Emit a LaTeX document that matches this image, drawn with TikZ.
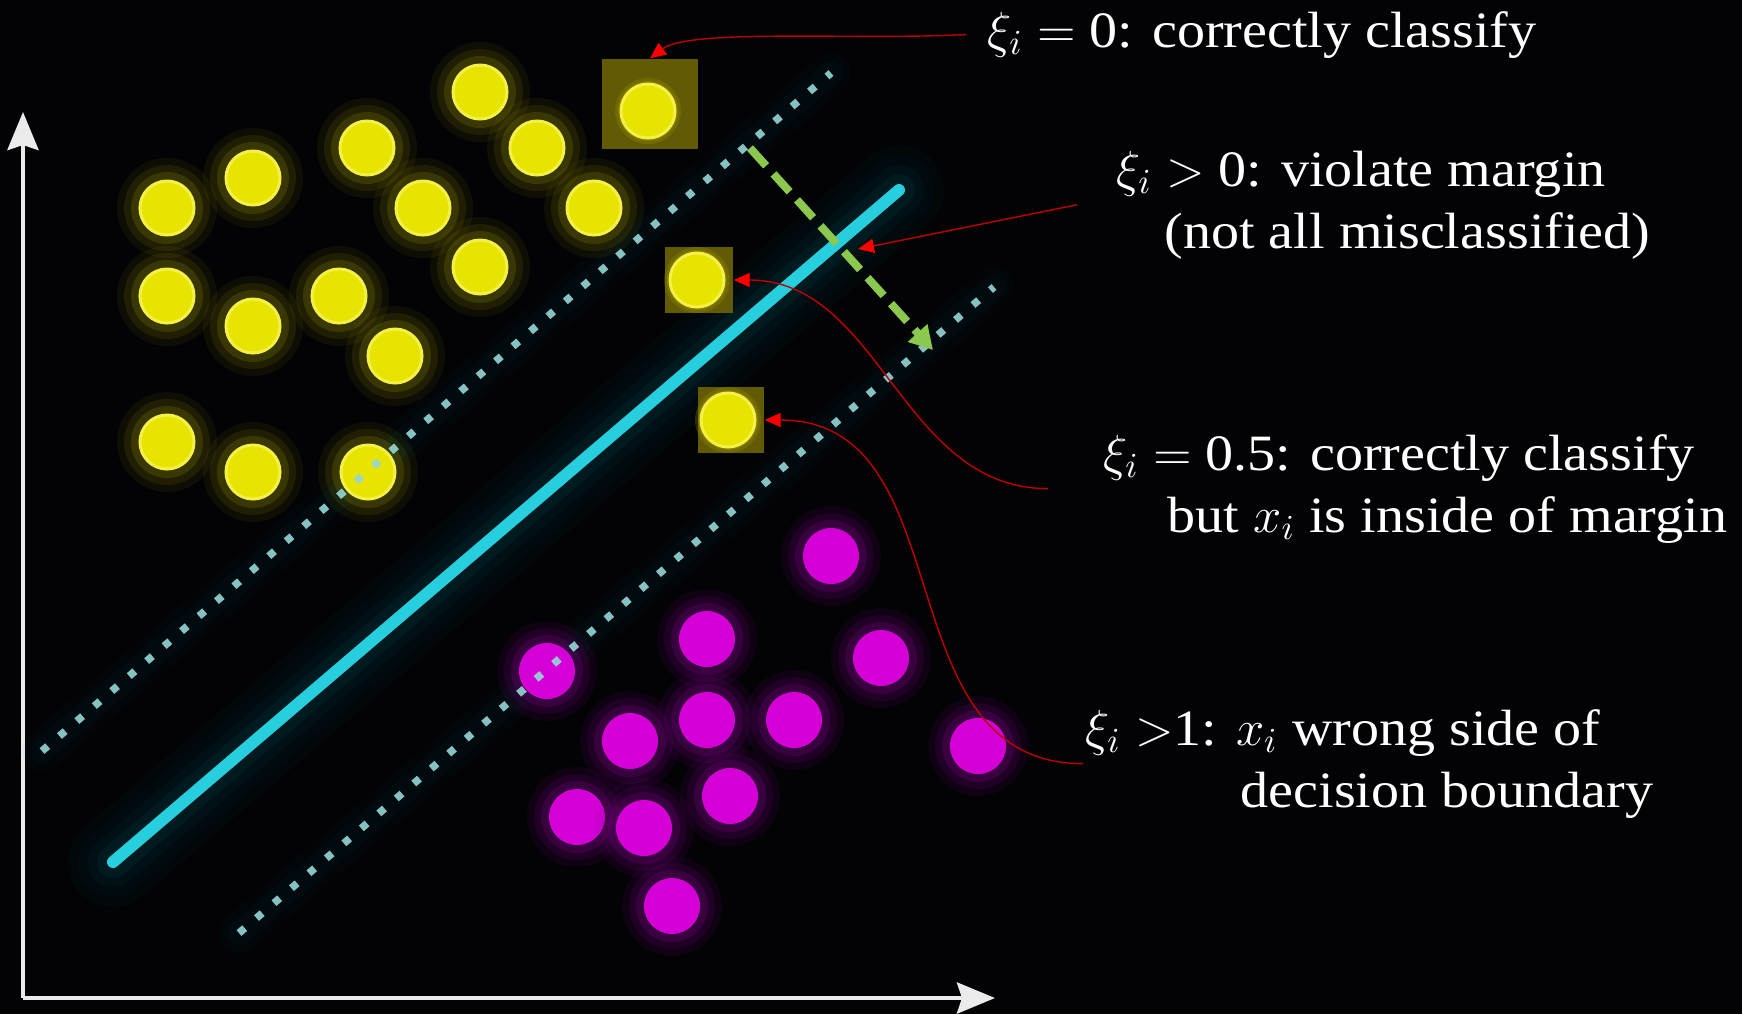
\documentclass[tikz,border=0pt]{standalone}
\usepackage{fontspec}
\setmainfont{Liberation Serif}[FakeStretch=1.1]
\usepackage{tikz}
\usetikzlibrary{arrows.meta}
\definecolor{bgblack}{RGB}{3, 3, 6}
\definecolor{dotyellow}{RGB}{230, 228, 0}
\definecolor{rimyellow}{RGB}{245, 240, 70}
\definecolor{glowyellow}{RGB}{160, 155, 0}
\definecolor{boxolive}{RGB}{98, 90, 4}
\definecolor{dotmagenta}{RGB}{212, 0, 214}
\definecolor{glowmagenta}{RGB}{130, 0, 140}
\definecolor{linecyan}{RGB}{38, 206, 222}
\definecolor{glowcyan}{RGB}{0, 120, 130}
\definecolor{margincyan}{RGB}{150, 214, 214}
\definecolor{arrowgreen}{RGB}{140, 200, 78}
\definecolor{notered}{RGB}{190, 0, 0}
\definecolor{tipred}{RGB}{250, 0, 0}

\begin{document}
\begin{tikzpicture}[x=0.1mm, y=-0.1mm,
  lbl/.style={text=white, anchor=base west, align=left, inner sep=0pt,
    font=\fontsize{14.5}{17.6}\selectfont},
  hilite/.style={fill=boxolive, inner sep=0pt},
  axis/.style={white!92!black, line width=1.3pt,
    -{Stealth[length=3.8mm, width=3.1mm, inset=0.5mm]}},
  margin/.style={margincyan, line width=0.75mm, dash pattern=on 0.75mm off 1.55mm, opacity=0.9},
  note/.style={notered, line width=0.4pt,
    -{Triangle[length=1.6mm, width=1.4mm, color=tipred]}}]

  \fill[bgblack] (0,0) rectangle (1742,1014);
  \useasboundingbox (0,0) rectangle (1742,1014);

  \coordinate (orig) at (23,998);
  \coordinate (ytip) at (23,112);
  \coordinate (xtip) at (995,998);
  \draw[axis] (orig) -- (ytip);
  \draw[axis] (orig) -- (xtip);

  \foreach \w/\o in {9mm/.035, 7mm/.045, 5mm/.06, 3.2mm/.1} {
    \draw[glowcyan, line width=\w, opacity=\o, line cap=round] (113,862) -- (899,190);
  }
  \foreach \w/\o in {4mm/.03, 2.4mm/.05} {
    \draw[glowcyan, line width=\w, opacity=\o, line cap=round] (42,751) -- (831,73);
    \draw[glowcyan, line width=\w, opacity=\o, line cap=round] (239,933) -- (994,287);
  }
  \draw[linecyan, line width=1.2mm, line cap=round] (113,862) -- (899,190);

  \foreach \x/\y in {480/92, 367/148, 537/148, 253/178, 167/208, 423/208, 594/208,
                     480/267, 167/296, 339/296, 253/326, 395/356, 167/442, 253/472, 368/472} {
    \foreach \r/\o in {5mm/.08, 4.3mm/.12, 3.6mm/.2}
      \fill[glowyellow, opacity=\o] (\x,\y) circle (\r);
    \fill[dotyellow, draw=rimyellow, line width=0.3mm] (\x,\y) circle (2.7mm);
  }

  \foreach \x/\y in {831/556, 707/639, 881/658, 547/671, 707/720, 794/720,
                     630/741, 978/746, 730/796, 577/817, 644/828, 672/906} {
    \foreach \r/\o in {5mm/.1, 4.3mm/.15, 3.6mm/.25}
      \fill[glowmagenta, opacity=\o] (\x,\y) circle (\r);
    \fill[dotmagenta] (\x,\y) circle (2.8mm);
  }

  \node[hilite, minimum width=9.6mm, minimum height=9mm] (box0) at (650,104) {};
  \node[hilite, minimum width=6.8mm, minimum height=6.6mm] (box1) at (699,280) {};
  \node[hilite, minimum width=6.6mm, minimum height=6.6mm] (box2) at (731,420) {};
  \foreach \x/\y in {648/111, 697/280, 728/420} {
    \foreach \r/\o in {3.3mm/.25, 3.0mm/.35}
      \fill[glowyellow, opacity=\o] (\x,\y) circle (\r);
    \fill[dotyellow, draw=rimyellow, line width=0.3mm] (\x,\y) circle (2.7mm);
  }

  \draw[margin] (42,751) -- (831,73);
  \draw[margin] (239,933) -- (994,287);

  \coordinate (mtop) at (750,148);
  \coordinate (mbot) at (933,350);
  \draw[arrowgreen, line width=0.8mm, dash pattern=on 2.4mm off 1.1mm,
    -{Triangle[length=2.3mm, width=2.5mm]}] (mtop) -- (mbot);

  \node[lbl] (lab0) at (987,47) {$\xi_i={}$0: correctly classify};
  \node[lbl] (lab1) at (1116,248) {$\xi_i>{}$0: violate margin\\
    \hspace*{4.8mm}(not all misclassified)};
  \node[lbl] (lab2) at (1103,532) {$\xi_i={}$0.5: correctly classify\\
    \hspace*{6.4mm}but $x_i$ is inside of margin};
  \node[lbl] (lab3) at (1085,807) {$\xi_i$ $>$1: $x_i$ wrong side of\\
    \hspace*{15.5mm}decision boundary};

  \coordinate (hit) at (858,249);
  \draw[note] ([xshift=-2.1mm]lab0.west) to[out=183, in=37, out distance=11mm, in distance=5mm] (box0.north);
  \draw[note] ([xshift=-3.9mm]lab1.west) -- (hit);
  \draw[note] ([xshift=-5.5mm]lab2.west) to[out=180, in=0] (box1.east);
  \draw[note] ([xshift=-0.2mm]lab3.west) to[out=180, in=0, looseness=1.1] (box2.east);

\end{tikzpicture}
\end{document}
